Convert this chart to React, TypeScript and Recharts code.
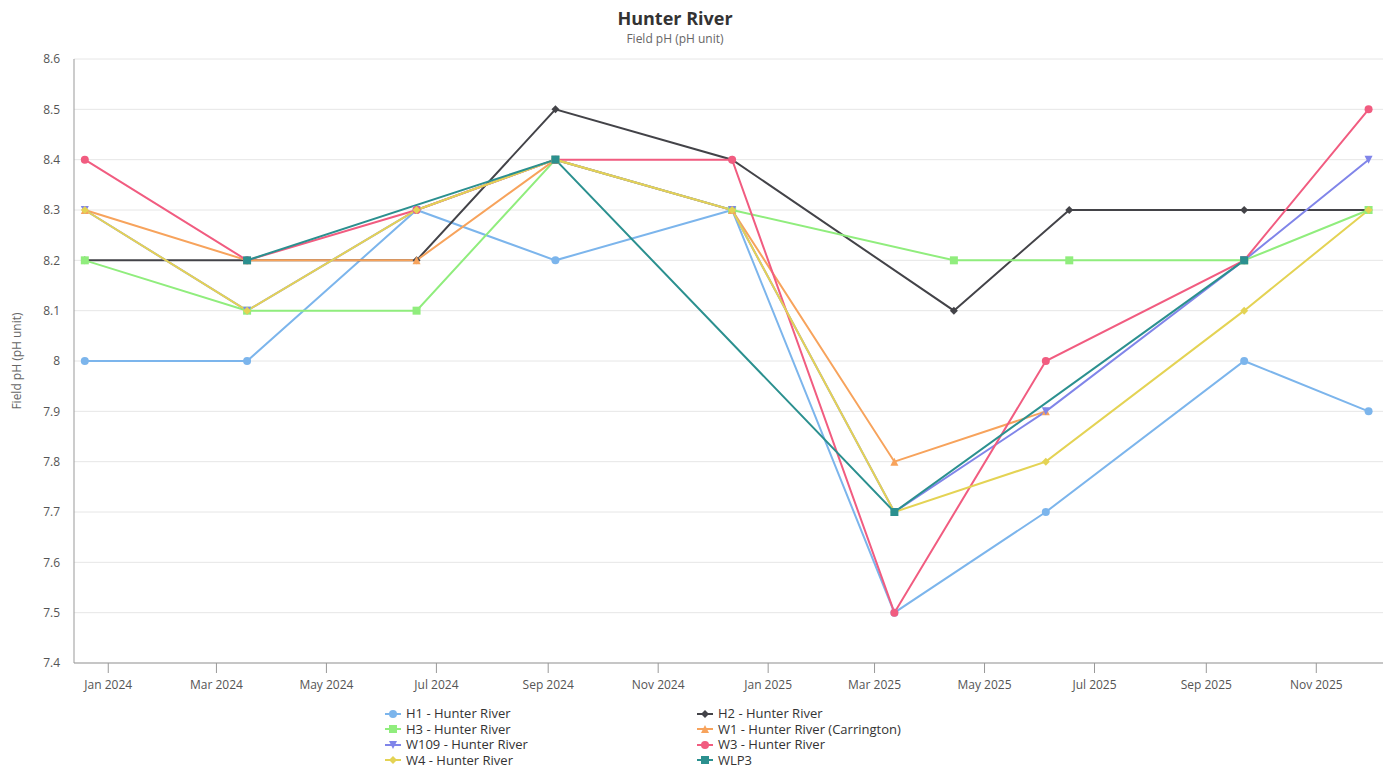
import { LineChart, Line, XAxis, YAxis, CartesianGrid } from "recharts";

// sampling dates
const sampleDates = [
  "2023-12-19",
  "2024-03-18",
  "2024-06-20",
  "2024-09-05",
  "2024-12-12",
  "2025-03-12",
  "2025-04-14",
  "2025-06-04",
  "2025-06-17",
  "2025-09-22",
  "2025-11-30",
];

// Field pH per site, null = not sampled on that date
const h1Values = [8.0, 8.0, 8.3, 8.2, 8.3, 7.5, null, 7.7, null, 8.0, 7.9];
const h2Values = [8.2, 8.2, 8.2, 8.5, 8.4, null, 8.1, null, 8.3, 8.3, 8.3];
const h3Values = [8.2, 8.1, 8.1, 8.4, 8.3, null, 8.2, null, 8.2, 8.2, 8.3];
const w1Values = [8.3, 8.2, 8.2, 8.4, 8.3, 7.8, null, 7.9, null, null, null];
const w109Values = [8.3, 8.1, 8.3, 8.4, 8.3, 7.7, null, 7.9, null, 8.2, 8.4];
const w3Values = [8.4, 8.2, 8.3, 8.4, 8.4, 7.5, null, 8.0, null, 8.2, 8.5];
const w4Values = [8.3, 8.1, 8.3, 8.4, 8.3, 7.7, null, 7.8, null, 8.1, 8.3];
const wlp3Values = [null, 8.2, null, 8.4, null, 7.7, null, null, null, 8.2, null];

const xTickDates = [
  "2024-01-01",
  "2024-03-01",
  "2024-05-01",
  "2024-07-01",
  "2024-09-01",
  "2024-11-01",
  "2025-01-01",
  "2025-03-01",
  "2025-05-01",
  "2025-07-01",
  "2025-09-01",
  "2025-11-01",
];
const yTicks = [7.4, 7.5, 7.6, 7.7, 7.8, 7.9, 8.0, 8.1, 8.2, 8.3, 8.4, 8.5, 8.6];

const monthNames = ["Jan", "Feb", "Mar", "Apr", "May", "Jun", "Jul", "Aug", "Sep", "Oct", "Nov", "Dec"];

const toTime = (d: string) => Date.parse(d + "T00:00:00Z");
const fmtMonth = (t: number) => {
  const d = new Date(t);
  return `${monthNames[d.getUTCMonth()]} ${d.getUTCFullYear()}`;
};
const fmtPh = (v: number) => String(Number(v.toFixed(1)));

type Symbol = "circle" | "diamond" | "square" | "triangle" | "triangle-down";

const series: { name: string; color: string; symbol: Symbol; values: (number | null)[] }[] = [
  { name: "H1 - Hunter River", color: "#7cb5ec", symbol: "circle", values: h1Values },
  { name: "H2 - Hunter River", color: "#434348", symbol: "diamond", values: h2Values },
  { name: "H3 - Hunter River", color: "#90ed7d", symbol: "square", values: h3Values },
  { name: "W1 - Hunter River (Carrington)", color: "#f7a35c", symbol: "triangle", values: w1Values },
  { name: "W109 - Hunter River", color: "#8085e9", symbol: "triangle-down", values: w109Values },
  { name: "W3 - Hunter River", color: "#f15c80", symbol: "circle", values: w3Values },
  { name: "W4 - Hunter River", color: "#e4d354", symbol: "diamond", values: w4Values },
  { name: "WLP3", color: "#2b908f", symbol: "square", values: wlp3Values },
];

const toPoints = (values: (number | null)[]) =>
  values
    .map((v, i) => ({ t: toTime(sampleDates[i]), v }))
    .filter((p) => p.v !== null);

function Marker({ cx, cy, symbol, color, r = 4 }: { cx: number; cy: number; symbol: Symbol; color: string; r?: number }) {
  if (cx == null || cy == null) return null;
  switch (symbol) {
    case "circle":
      return <circle cx={cx} cy={cy} r={r} fill={color} />;
    case "square":
      return <rect x={cx - r} y={cy - r} width={r * 2} height={r * 2} fill={color} />;
    case "diamond":
      return <path d={`M${cx} ${cy - r}L${cx + r} ${cy}L${cx} ${cy + r}L${cx - r} ${cy}Z`} fill={color} />;
    case "triangle":
      return <path d={`M${cx} ${cy - r}L${cx + r} ${cy + r}L${cx - r} ${cy + r}Z`} fill={color} />;
    case "triangle-down":
      return <path d={`M${cx - r} ${cy - r}L${cx + r} ${cy - r}L${cx} ${cy + r}Z`} fill={color} />;
  }
  return null;
}

const FONT = '"Segoe UI", "Open Sans", "Noto Sans", sans-serif';

export default function App() {
  const width = 1380;
  const height = 761;

  return (
    <div style={{ position: "relative", width, height, fontFamily: FONT }}>
      <div
        style={{
          position: "absolute",
          left: 0,
          width: 1334,
          top: -1,
          textAlign: "center",
          fontSize: 18,
          fontWeight: 700,
          color: "#333",
          lineHeight: "22px",
        }}
      >
        Hunter River
      </div>
      <div
        style={{
          position: "absolute",
          left: 0,
          width: 1334,
          top: 23,
          textAlign: "center",
          fontSize: 12,
          color: "#666",
          lineHeight: "16px",
        }}
      >
        Field pH (pH unit)
      </div>
      <div
        style={{
          position: "absolute",
          left: 8,
          top: 353,
          transform: "translate(-50%, -50%) rotate(-90deg)",
          fontSize: 12,
          color: "#666",
          whiteSpace: "nowrap",
        }}
      >
        Field pH (pH unit)
      </div>

      <LineChart width={width} height={height} margin={{ top: 51, right: 5, bottom: 76, left: 16 }}>
        <CartesianGrid vertical={false} stroke="#e6e6e6" />
        <XAxis
          dataKey="t"
          type="number"
          domain={[toTime("2023-12-13"), toTime("2025-12-08")]}
          ticks={xTickDates.map(toTime)}
          tickFormatter={fmtMonth}
          allowDataOverflow
          height={30}
          stroke="#999"
          tickSize={10}
          tickMargin={7}
          tick={{ fill: "#555", fontSize: 12 }}
        />
        <YAxis
          type="number"
          domain={[7.4, 8.6]}
          ticks={yTicks}
          tickFormatter={fmtPh}
          width={50}
          stroke="#999"
          tickLine={false}
          tickSize={0}
          tickMargin={14}
          tick={{ fill: "#555", fontSize: 12 }}
        />
        {series.map((s) => (
          <Line
            key={s.name}
            data={toPoints(s.values)}
            dataKey="v"
            name={s.name}
            type="linear"
            stroke={s.color}
            strokeWidth={2}
            isAnimationActive={false}
            activeDot={false}
            dot={(p: any) => (
              <Marker key={`${s.name}-${p.index}`} cx={p.cx} cy={p.cy} symbol={s.symbol} color={s.color} />
            )}
          />
        ))}
      </LineChart>

      <div
        style={{
          position: "absolute",
          left: 377,
          top: 698,
          display: "grid",
          gridTemplateColumns: "312px 312px",
          gridAutoRows: "15.5px",
          fontSize: 13,
          lineHeight: "15px",
          color: "#333",
        }}
      >
        {series.map((s) => (
          <div key={s.name} style={{ display: "flex", alignItems: "center", whiteSpace: "nowrap" }}>
            <svg width={16} height={12} style={{ marginRight: 5 }}>
              <line x1={0} y1={6} x2={16} y2={6} stroke={s.color} strokeWidth={2} />
              <Marker cx={8} cy={6} symbol={s.symbol} color={s.color} />
            </svg>
            <span>{s.name}</span>
          </div>
        ))}
      </div>
    </div>
  );
}
